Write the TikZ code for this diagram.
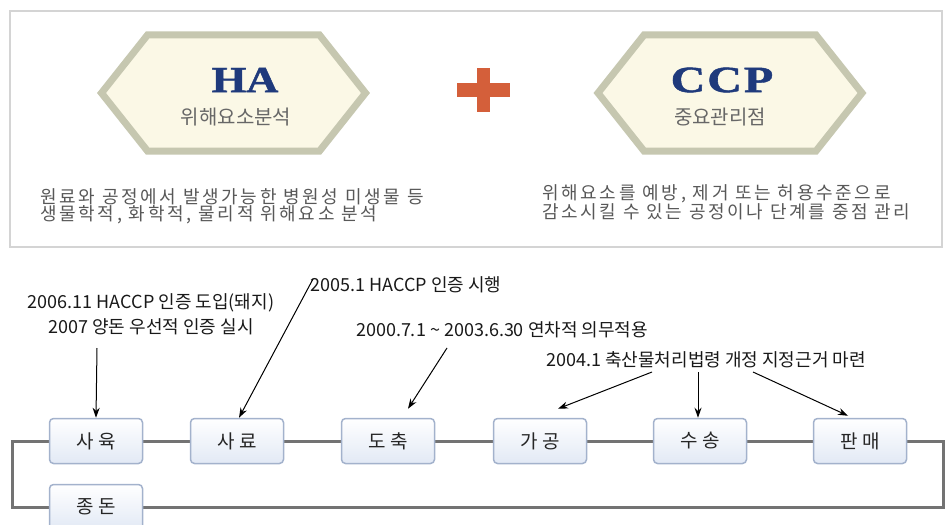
\documentclass[tikz,border=0pt]{standalone}
\usepackage{fontspec}
\newfontfamily\kr{Noto Sans CJK KR}
\newfontfamily\krsp{Noto Sans CJK KR}[LetterSpace=15]
\newfontfamily\lserif{Liberation Serif}[BoldFeatures={FakeBold=1.2}]
\newfontfamily\lserifsp{Liberation Serif}[LetterSpace=4,BoldFeatures={FakeBold=1.2}]
\usetikzlibrary{arrows.meta}
\definecolor{panelline}{HTML}{D4D4D4}
\definecolor{hexline}{HTML}{C6C7B0}
\definecolor{hexfill}{HTML}{FBF8E6}
\definecolor{navy}{HTML}{1F3A7C}
\definecolor{subgray}{HTML}{676767}
\definecolor{desctext}{HTML}{585858}
\definecolor{plusorange}{HTML}{D45F3A}
\definecolor{boxline}{HTML}{A3B2CC}
\definecolor{boxfill}{HTML}{E2E9F5}
\definecolor{linkgray}{HTML}{737373}
\pgfdeclarelayer{bg}
\pgfsetlayers{bg,main}
\begin{document}
\begin{tikzpicture}[x=1pt,y=-1pt,
  stage/.style={draw=boxline, line width=1.5pt, rounded corners=4pt,
    top color=white, bottom color=boxfill, minimum width=93pt,
    minimum height=45pt, inner sep=0pt,
    font=\kr\fontsize{19}{20}\selectfont, text=black!85},
  link/.style={draw=linkgray, line width=3pt},
  note/.style={font=\kr\fontsize{18}{25}\selectfont, text=black!90,
    inner sep=0pt, align=center},
  pointer/.style={draw=black, line width=1pt, -{Stealth[length=10pt,width=7pt]}},
  hexa/.style={draw=hexline, line width=7pt, fill=hexfill, line join=miter},
  desc/.style={font=\krsp\fontsize{18}{20}\selectfont, text=desctext,
    anchor=west, inner sep=0pt},
  subt/.style={font=\kr\fontsize{20}{22}\selectfont, text=subgray, inner sep=0pt}
]
\useasboundingbox (0,0) rectangle (949,524);
\clip (0,0) rectangle (949,524);

% top panel
\draw[panelline, line width=1.5pt, fill=white] (10,11) rectangle (942,247);

% hexagons
\path[hexa] (101.5,93) -- (147.5,35) -- (319.5,35) -- (365.5,93) -- (319.5,151) -- (147.5,151) -- cycle;
\path[hexa] (598,93) -- (644,35) -- (816,35) -- (862,93) -- (816,151) -- (644,151) -- cycle;

\node[inner sep=0pt, text=navy, font=\lserif\bfseries\fontsize{37}{38}\selectfont] (ha) at (245,80) {\scalebox{1.2}[1]{HA}};
\node[subt] (has) at (236,117) {위해요소분석};
\node[inner sep=0pt, text=navy, font=\lserifsp\bfseries\fontsize{37}{38}\selectfont] (ccp) at (722,80) {\scalebox{1.3}[1]{CCP}};
\node[subt] (ccps) at (720,117) {중요관리점};

% plus
\fill[plusorange] (477,68) rectangle (490,112);
\fill[plusorange] (457,83) rectangle (510,97);

% descriptions
\node[desc] (d1) at (40,197) {원료와 공정에서 발생가능한 병원성 미생물 등};
\node[desc] (d2) at (40,215) {생물학적, 화학적, 물리적 위해요소 분석};
\node[desc] (d3) at (542,194) {위해요소를 예방, 제거 또는 허용수준으로};
\node[desc] (d4) at (542,212) {감소시킬 수 있는 공정이나 단계를 중점 관리};

% stages
\node[stage] (n1) at (96,441) {사 육};
\node[stage] (n2) at (237,441) {사 료};
\node[stage] (n3) at (388,441) {도 축};
\node[stage] (n4) at (540,441) {가 공};
\node[stage] (n5) at (700,441) {수 송};
\node[stage] (n6) at (860,441) {판 매};
\node[stage] (n7) at (96,507) {종 돈};

\coordinate (tl) at (12,441);
\coordinate (br) at (943,507);
\begin{pgfonlayer}{bg}
\draw[link] (n1) -- (n2);
\draw[link] (n2) -- (n3);
\draw[link] (n3) -- (n4);
\draw[link] (n4) -- (n5);
\draw[link] (n5) -- (n6);
\draw[link] (n1.west) -- (tl) |- (n7.west);
\draw[link] (n7.east) -- (br) |- (n6.east);
\end{pgfonlayer}

% notes
\node[note] (t1) at (151,314.5) {2006.11 HACCP 인증 도입(돼지)\\2007 양돈 우선적 인증 실시};
\node[note] (t2) at (406,285) {2005.1 HACCP 인증 시행};
\node[note] (t3) at (502,330) {2000.7.1 \textasciitilde{} 2003.6.30 연차적 의무적용};
\node[note] (t4) at (706,360) {2004.1 축산물처리법령 개정 지정근거 마련};

\coordinate (s1) at (97,348);
\coordinate (s2) at (313,279);
\coordinate (s3) at (447,348);
\coordinate (s4) at (652,372);
\coordinate (s5) at (698,372);
\coordinate (s6) at (753,372);
\draw[pointer] (s1) -- (n1.north);
\draw[pointer] (s2) -- ([xshift=2pt]n2.north);
\draw[pointer] (s3) -- ([xshift=20pt,yshift=9pt]n3.north);
\draw[pointer] (s4) -- ([xshift=18pt,yshift=9pt]n4.north);
\draw[pointer] (s5) -- ([xshift=-2pt]n5.north);
\draw[pointer] (s6) -- ([xshift=-12pt,yshift=2pt]n6.north);
\end{tikzpicture}
\end{document}
